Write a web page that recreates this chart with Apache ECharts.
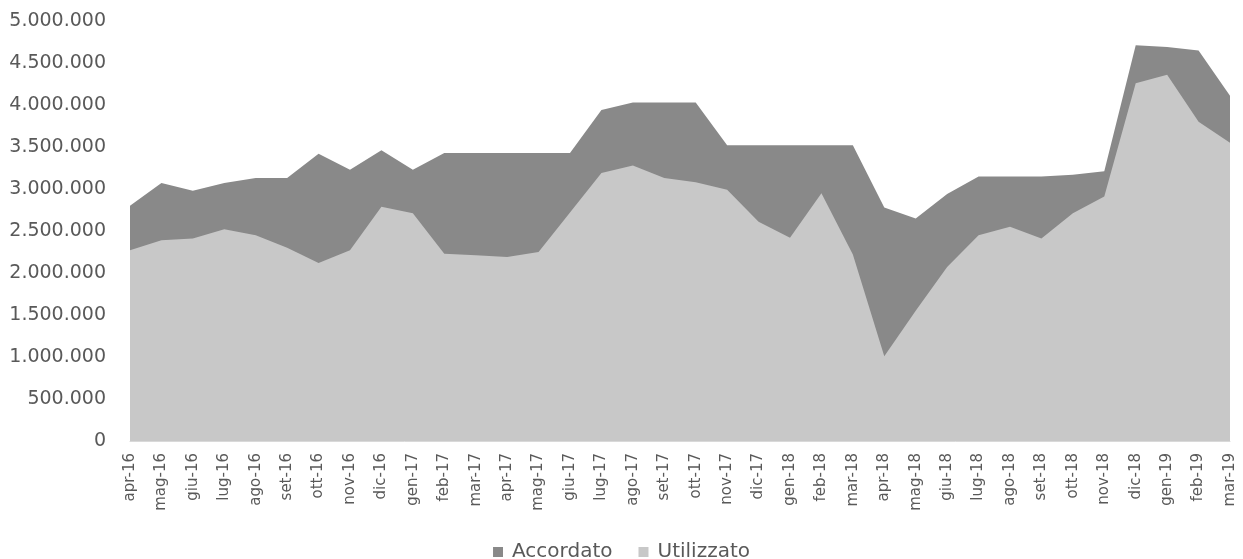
<!DOCTYPE html>
<html>
<head>
<meta charset="utf-8">
<script src="https://cdn.jsdelivr.net/npm/echarts@6/dist/echarts.min.js"></script>
<style>html,body{margin:0;padding:0;background:#fff;}#c{width:1243px;height:559px;}</style>
</head>
<body>
<div id="c"></div>
<script>
const categories = ['apr-16','mag-16','giu-16','lug-16','ago-16','set-16','ott-16','nov-16','dic-16','gen-17','feb-17','mar-17','apr-17','mag-17','giu-17','lug-17','ago-17','set-17','ott-17','nov-17','dic-17','gen-18','feb-18','mar-18','apr-18','mag-18','giu-18','lug-18','ago-18','set-18','ott-18','nov-18','dic-18','gen-19','feb-19','mar-19'];
const accordato = [2800000,3070000,2980000,3070000,3130000,3130000,3420000,3230000,3460000,3230000,3430000,3430000,3430000,3430000,3430000,3940000,4030000,4030000,4030000,3520000,3520000,3520000,3520000,3520000,2780000,2650000,2940000,3150000,3150000,3150000,3170000,3210000,4710000,4690000,4650000,4110000];
const utilizzato = [2270000,2390000,2410000,2520000,2450000,2300000,2120000,2270000,2790000,2710000,2230000,2210000,2190000,2250000,2720000,3190000,3280000,3130000,3080000,2990000,2610000,2420000,2950000,2220000,1010000,1550000,2070000,2450000,2550000,2410000,2710000,2910000,4260000,4360000,3800000,3550000];
const seriesNames = ['Accordato','Utilizzato'];

function fmt(v){ return String(v).replace(/\B(?=(\d{3})+(?!\d))/g,'.'); }

const chart = echarts.init(document.getElementById('c'), null, {renderer:'canvas'});
chart.setOption({
  animation:false,
  backgroundColor:'#ffffff',
  textStyle:{fontFamily:'DejaVu Sans'},
  grid:{left:130, right:13, top:21, bottom:118, containLabel:false},
  legend:{
    data:seriesNames,
    left:'center', top:537,
    icon:'rect', itemWidth:10, itemHeight:10, itemGap:26,
    textStyle:{fontFamily:'DejaVu Sans', fontSize:20, color:'#595959', padding:[0,0,0,4]}
  },
  xAxis:{
    type:'category', data:categories, boundaryGap:false,
    axisLine:{show:true, lineStyle:{color:'#d9d9d9'}},
    axisTick:{show:false},
    axisLabel:{rotate:90, interval:0, margin:12, fontFamily:'DejaVu Sans', fontSize:15, color:'#595959'}
  },
  yAxis:{
    type:'value', min:0, max:5000000, interval:500000,
    splitLine:{show:false},
    axisLine:{show:false}, axisTick:{show:false},
    axisLabel:{margin:24, fontFamily:'DejaVu Sans', fontSize:19, color:'#595959', formatter:fmt}
  },
  series:[
    {name:seriesNames[0], type:'line', data:accordato, symbol:'none',
     lineStyle:{width:0}, itemStyle:{color:'#898989'},
     areaStyle:{color:'#898989', opacity:1}},
    {name:seriesNames[1], type:'line', data:utilizzato, symbol:'none',
     lineStyle:{width:0}, itemStyle:{color:'#c8c8c8'},
     areaStyle:{color:'#c8c8c8', opacity:1}}
  ]
});
</script>
</body>
</html>
